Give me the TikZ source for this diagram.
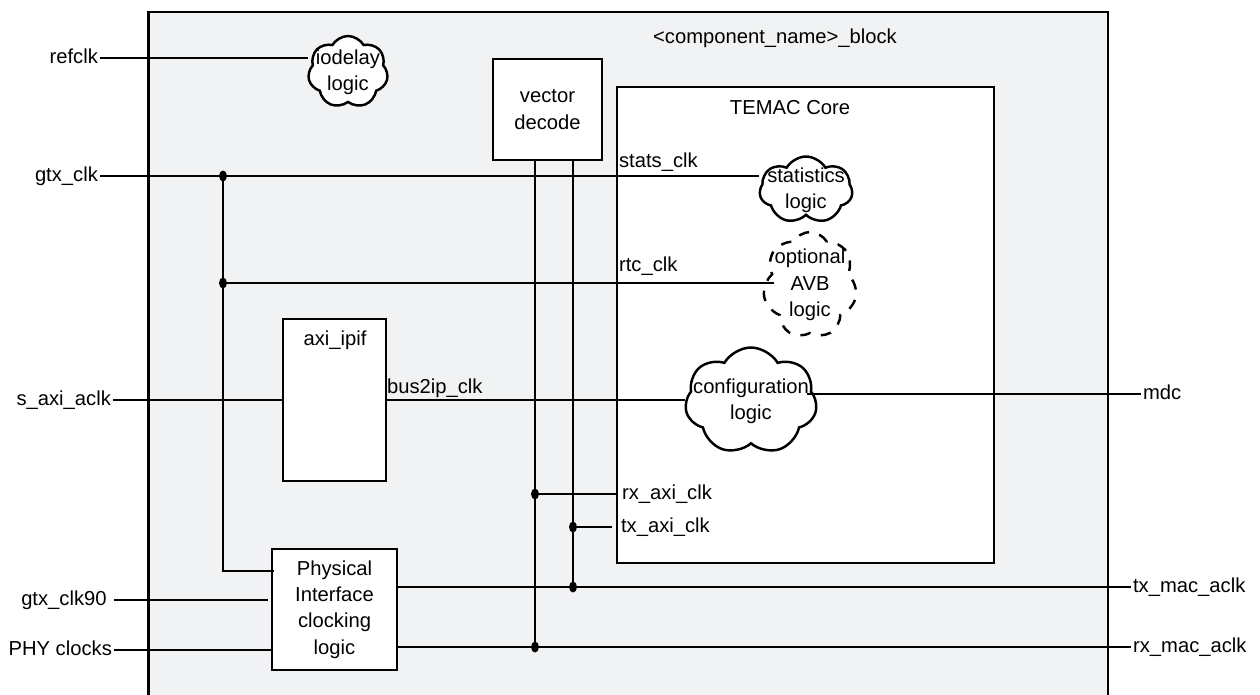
\documentclass[tikz,border=0pt]{standalone}
\usepackage{fontspec}
\setmainfont{Liberation Sans}
\usepackage{tikz}
\usetikzlibrary{shapes,shapes.symbols,calc}
\definecolor{blockgray}{RGB}{241,242,244}

\begin{document}
\begin{tikzpicture}[x=0.02cm,y=-0.02cm,
  every node/.style={font=\fontsize{11.5}{15}\selectfont},
  wire/.style={line width=1.6pt},
  box/.style={draw,line width=1.6pt,fill=white,align=center},
  cloudy/.style={cloud,cloud puffs=7,cloud puff arc=120,cloud ignores aspect,draw,line width=1.4pt,fill=white,inner sep=0pt},
  pin/.style={inner sep=1pt,text height=8pt,text depth=2pt}]
\useasboundingbox (0,0) rectangle (1260,694);
\clip (0,0) rectangle (1260,694);

% the block and its boxes
\node[draw,line width=1.6pt,fill=blockgray,minimum width=19.2cm,minimum height=14.16cm] (blk) at (628,366) {};
\node (blktitle) at (775,38) {<component\_name>\_block};
\node[box,minimum width=7.54cm,minimum height=9.52cm] (temac) at (805.5,325) {};
\node (temactitle) at (790,108) {TEMAC Core};
\node[box,minimum width=2.18cm,minimum height=2.02cm] (vdec) at (547.5,109.5) {vector\\decode};
\node[box,minimum width=2.06cm,minimum height=3.24cm] (axi) at (334.5,400) {};
\node (axititle) at (335,340) {axi\_ipif};
\node[box,minimum width=2.5cm,minimum height=2.42cm] (phys) at (334.5,609.5) {Physical\\Interface\\clocking\\logic};

% clouds
\node[cloudy,minimum width=1.6cm,minimum height=1.44cm,label={[align=center]center:iodelay\\logic}] (iod) at (348,72) {};
\node[cloudy,minimum width=1.86cm,minimum height=1.34cm,label={[align=center]center:statistics\\logic}] (stats) at (806,190) {};
\node[cloudy,dashed,dash pattern=on 6pt off 6pt,minimum width=1.88cm,minimum height=2.12cm,label={[align=center]center:optional\\AVB\\logic}] (avb) at (810,285) {};
\node[cloudy,minimum width=2.64cm,minimum height=2.14cm,label={[align=center]center:configuration\\logic}] (cfg) at (751,401) {};

% ports
\node[pin,anchor=east] (refclk) at (100,58) {refclk};
\node[pin,anchor=east] (gtxclk) at (100,176) {gtx\_clk};
\node[pin,anchor=east] (saxi) at (113,400) {s\_axi\_aclk};
\node[pin,anchor=east,inner xsep=4pt] (gtxninety) at (114,600) {gtx\_clk90};
\node[pin,anchor=east] (phyclk) at (114,650) {PHY clocks};
\node[pin,anchor=west] (mdc) at (1141,394) {mdc};
\node[pin,anchor=west] (txmac) at (1131,587) {tx\_mac\_aclk};
\node[pin,anchor=west] (rxmac) at (1131,647) {rx\_mac\_aclk};

% clock names
\node[pin,anchor=west] (statsclk) at (617,162) {stats\_clk};
\node[pin,anchor=west] (rtcclk) at (617,266) {rtc\_clk};
\node[pin,anchor=west] (busclk) at (385,388) {bus2ip\_clk};
\node[pin,anchor=west] (rxaxi) at (620,494) {rx\_axi\_clk};
\node[pin,anchor=west] (txaxi) at (619,527) {tx\_axi\_clk};

\coordinate (gsplit) at (223,176);
\coordinate (rsplit) at (223,283);
\coordinate (rxj) at (535,494);
\coordinate (txj) at (573,527);
\coordinate (txm) at (573,587);
\coordinate (rxm) at (535,647);
\coordinate (physin) at (274,571);
\newcommand{\Joints}{(gsplit),(rsplit),(rxj),(txj),(txm),(rxm)}

\draw[wire] (refclk.east) -- (refclk.east -| iod.west);
\draw[wire] (gtxclk.east) -- (gtxclk.east -| stats.west);
\draw[wire] (gsplit) |- (physin);
\draw[wire] (rsplit) -- ($(rsplit -| avb.west)+(10,0)$);
\draw[wire] (saxi.east) -- (saxi.east -| axi.west);
\draw[wire] (axi.east) -- (axi.east -| cfg.west);
\draw[wire] (mdc.west) -- ($(mdc.west -| cfg.east)+(-10,0)$);
\draw[wire] (vdec.south -| rxm) -- (rxm);
\draw[wire] (vdec.south -| txm) -- (txm);
\draw[wire] (rxj) -- (rxj -| temac.west);
\draw[wire] (txj) -- ($(txj -| temac.west)+(-4,0)$);
\draw[wire] (gtxninety.east) -- ($(gtxninety.east -| phys.west)+(-3,0)$);
\draw[wire] (phyclk.east) -- (phyclk.east -| phys.west);
\draw[wire] (phys.east |- txm) -- (txmac.west);
\draw[wire] (phys.east |- rxm) -- (rxmac.west);
\foreach \coord in \Joints{\fill \coord ellipse[x radius=4,y radius=5.5];}
\end{tikzpicture}
\end{document}
